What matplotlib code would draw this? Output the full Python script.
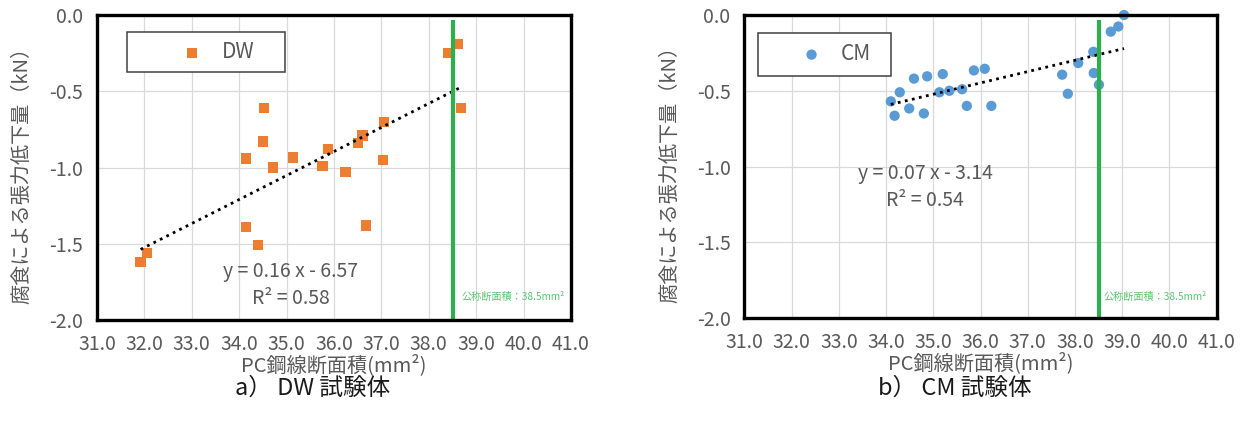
import numpy as np
import matplotlib
matplotlib.use("Agg")
import matplotlib.pyplot as plt
from matplotlib.patches import Rectangle

plt.rcParams['font.family'] = ['Noto Sans CJK JP', 'DejaVu Sans']

# ---- data ----
dw_x = [38.40, 38.61, 38.68, 34.52, 34.50, 34.14, 34.72, 35.14, 35.76, 35.87,
        36.24, 36.51, 36.60, 37.06, 37.04, 36.67, 34.15, 34.39, 32.06, 31.92]
dw_y = [-0.25, -0.19, -0.61, -0.61, -0.83, -0.94, -1.00, -0.935, -0.99, -0.88,
        -1.03, -0.84, -0.79, -0.70, -0.95, -1.38, -1.39, -1.51, -1.56, -1.62]

cm_x = [39.04, 38.92, 38.76, 38.39, 38.07, 38.40, 38.51, 37.73, 37.85, 36.09,
        35.86, 36.23, 35.71, 35.61, 35.34, 35.13, 35.20, 34.87, 34.59, 34.29,
        34.10, 34.18, 34.49, 34.80]
cm_y = [0.00, -0.076, -0.11, -0.243, -0.317, -0.383, -0.46, -0.394, -0.52, -0.355,
        -0.366, -0.60, -0.60, -0.49, -0.50, -0.51, -0.39, -0.405, -0.42, -0.51,
        -0.57, -0.665, -0.617, -0.65]

x_ticks = [31.0, 32.0, 33.0, 34.0, 35.0, 36.0, 37.0, 38.0, 39.0, 40.0, 41.0]
y_ticks = [-2.0, -1.5, -1.0, -0.5, 0.0]
nominal_area = 38.5

panels = [
    dict(x=dw_x, y=dw_y, name='DW', marker='s', color='#ED7D31',
         eq=['y = 0.16 x - 6.57', 'R² = 0.58'], eq_pos=(35.09, -1.77),
         caption='a） DW 試験体', cap_x=0.251,
         rect=(0.0627, 0.812, 0.333, 0.131), leg=(0.179, 0.878),
         note_pos=(38.69, -1.85), rect_ax=[97/1245, 1-320/423, 474/1245, 305/423]),
    dict(x=cm_x, y=cm_y, name='CM', marker='o', color='#5B9BD5',
         eq=['y = 0.07 x - 3.14', 'R² = 0.54'], eq_pos=(34.83, -1.137),
         caption='b） CM 試験体', cap_x=0.767,
         rect=(0.029, 0.80, 0.282, 0.14), leg=(0.120, 0.871),
         note_pos=(38.60, -1.86), rect_ax=[744.5/1245, 1-318/423, 472/1245, 303/423]),
]

fig = plt.figure(figsize=(12.45, 4.23), dpi=100)
gray = '#595959'

for p in panels:
    ax = fig.add_axes(p['rect_ax'])
    ax.set_xlim(31, 41)
    ax.set_ylim(-2.0, 0.0)
    ax.set_xticks(x_ticks)
    ax.set_yticks(y_ticks)
    ax.set_xticklabels([f'{v:.1f}' for v in x_ticks])
    ax.set_yticklabels([f'{v:.1f}' for v in y_ticks])
    ax.tick_params(length=0, labelsize=14, labelcolor=gray, pad=10)
    ax.grid(True, color='#D9D9D9', lw=0.9, zorder=0)
    ax.set_axisbelow(True)
    for s in ax.spines.values():
        s.set_color('black')
        s.set_linewidth(2.4)
        s.set_zorder(6)

    xs = np.array(p['x']); ys = np.array(p['y'])
    ax.scatter(xs, ys, marker=p['marker'], s=55, color=p['color'],
               edgecolors='none', zorder=3, clip_on=False, label=p['name'])
    k, b = np.polyfit(xs, ys, 1)
    xl = np.array([xs.min(), xs.max()])
    ax.plot(xl, k * xl + b, color='black', lw=2.0, ls=(0, (1, 1.6)), zorder=4)

    ax.plot([nominal_area, nominal_area], [-2.0, -0.03], color='#2BB04A',
            lw=3.0, zorder=5, solid_capstyle='butt')
    ax.text(p['note_pos'][0], p['note_pos'][1], '公称断面積：38.5mm²',
            fontsize=7.3, color='#5CC471', va='center', ha='left', zorder=5)

    ax.text(p['eq_pos'][0], p['eq_pos'][1], '\n'.join(p['eq']), fontsize=14,
            color=gray, ha='center', va='center', linespacing=1.36, zorder=5)

    rx, ry, rw, rh = p['rect']
    ax.add_patch(Rectangle((rx, ry), rw, rh, transform=ax.transAxes,
                           fill=True, facecolor='white', edgecolor='#404040',
                           lw=1.1, zorder=4))
    leg = ax.legend(loc='center left', bbox_to_anchor=p['leg'], frameon=False,
                    borderpad=0, borderaxespad=0, handlelength=1.0,
                    handletextpad=0.9, fontsize=15, labelcolor=gray,
                    scatterpoints=1)
    leg.set_zorder(7)

    ax.set_ylabel('腐食による張力低下量（kN）', fontsize=14.5, color=gray)
    ax.yaxis.set_label_coords(-0.158, 0.49)
    ax.set_xlabel('PC鋼線断面積(mm²)', fontsize=14.5, color=gray)
    ax.xaxis.set_label_coords(0.5, -0.148)
    ax.xaxis.label.set_va('center')
    ax.yaxis.label.set_va('center')

    fig.text(p['cap_x'], 1 - 388/423, p['caption'], fontsize=17,
             color='#1a1a1a', ha='center', va='center')

fig.savefig('out.png', dpi=100)
